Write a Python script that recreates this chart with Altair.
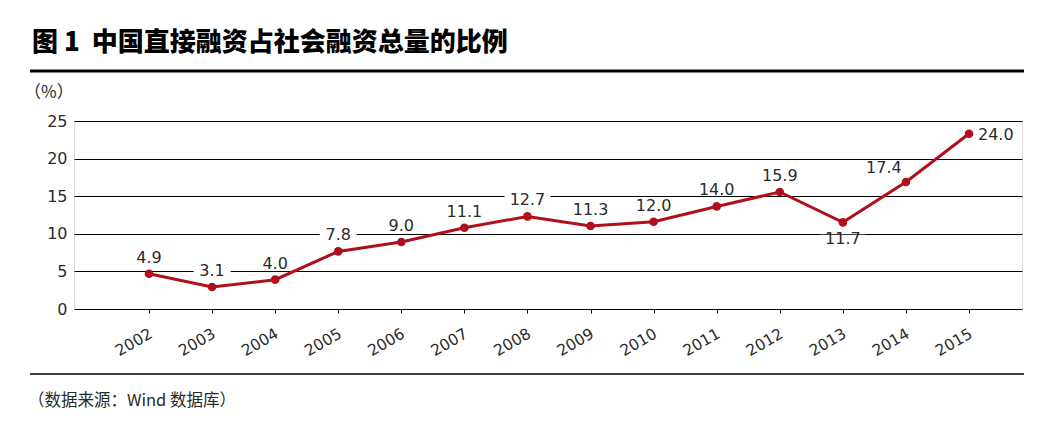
import altair as alt
import pandas as pd

# ---- data ----
years = [2002, 2003, 2004, 2005, 2006, 2007, 2008, 2009, 2010, 2011, 2012, 2013, 2014, 2015]
values = [4.69, 2.92, 3.90, 7.66, 8.91, 10.81, 12.31, 11.04, 11.60, 13.64, 15.56, 11.52, 16.89, 23.30]
labels = ["4.9", "3.1", "4.0", "7.8", "9.0", "11.1", "12.7", "11.3", "12.0", "14.0", "15.9", "11.7", "17.4", "24.0"]
y_ticks = [0, 5, 10, 15, 20, 25]
title_text = "图\u00a01\u00a0\u00a0中国直接融资占社会融资总量的比例"
unit_text = "（%）"
source_text = "（数据来源：Wind 数据库）"

df = pd.DataFrame({"year": years, "value": values, "label": labels})

RED = "#B0101B"
NUM_FONT = "DejaVu Sans"
CJK = "Noto Sans CJK SC"
TXT = "#2a2a2a"

x_enc = alt.X(
    "year:Q",
    scale=alt.Scale(domain=[2000.811, 2015.84], nice=False, zero=False),
    axis=alt.Axis(
        values=years, format="d", title=None, grid=False, domain=False,
        ticks=True, tickColor="black", tickSize=4, tickWidth=1,
        labelAngle=-30, labelAlign="right", labelBaseline="top",
        labelPadding=13, labelOffset=-2,
        labelFont=NUM_FONT, labelFontSize=15.5, labelColor=TXT,
    ),
)
y_enc = alt.Y(
    "value:Q",
    scale=alt.Scale(domain=[0, 25], nice=False, zero=True),
    axis=alt.Axis(
        values=y_ticks, title=None, grid=True, gridColor="black", gridWidth=1.2,
        gridOpacity=1, ticks=False, domain=False, labelPadding=7,
        labelFont=NUM_FONT, labelFontSize=16, labelColor=TXT,
    ),
)

base = alt.Chart(df)


def box_layer(expr, dx, dy):
    return (
        base.transform_filter(expr)
        .transform_calculate(bw="length(datum.label) * 9 + 10")
        .transform_calculate(
            bpath="'M-1,-' + (9 / datum.bw) + 'H1V' + (9 / datum.bw) + 'H-1Z'",
            bsize="datum.bw * datum.bw",
        )
        .mark_point(filled=True, color="white", opacity=1, strokeWidth=0,
                    xOffset=dx, yOffset=dy)
        .encode(x=x_enc, y=y_enc,
                shape=alt.Shape("bpath:N", scale=None),
                size=alt.Size("bsize:Q", scale=None))
    )


def text_layer(expr, dx, dy, align="center"):
    return (
        base.transform_filter(expr)
        .mark_text(font=NUM_FONT, fontSize=16, color=TXT, align=align,
                   baseline="middle", dx=dx, dy=dy)
        .encode(x=x_enc, y=y_enc, text="label:N")
    )


f_above = "indexof([2013, 2014, 2015], datum.year) < 0"
f_below = "datum.year == 2013"
f_left = "datum.year == 2014"
f_right = "datum.year == 2015"

boxes = [box_layer(f_above, 0, -16), box_layer(f_below, 0, 17), box_layer(f_left, -22, -14)]

line = base.mark_line(color=RED, strokeWidth=3).encode(x=x_enc, y=y_enc)
pts = base.mark_circle(color=RED, size=75, opacity=1).encode(x=x_enc, y=y_enc)

texts = [
    text_layer(f_above, 0, -16),
    text_layer(f_below, 0, 17),
    text_layer(f_left, -22, -14),
    text_layer(f_right, 9, 1, align="left"),
]

one = pd.DataFrame({"t": [title_text]})
title = alt.Chart(one).mark_text(
    align="left", baseline="middle", font=CJK, fontSize=26, fontWeight=900, color="black"
).encode(text="t:N", x=alt.value(-42), y=alt.value(-78))

unit = alt.Chart(pd.DataFrame({"t": [unit_text]})).mark_text(
    align="left", baseline="middle", font=CJK, fontSize=17, color=TXT
).encode(text="t:N", x=alt.value(-50), y=alt.value(-28))

source = alt.Chart(pd.DataFrame({"t": [source_text]})).mark_text(
    align="left", baseline="middle", font=CJK, fontSize=16.5, color=TXT
).encode(text="t:N", x=alt.value(-46), y=alt.value(280))

top_rule = alt.Chart(one).mark_rule(color="black", strokeWidth=3).encode(
    x=alt.value(-44), x2=alt.value(950), y=alt.value(-50))
bottom_rule = alt.Chart(one).mark_rule(color="black", strokeWidth=1.5).encode(
    x=alt.value(-44), x2=alt.value(950), y=alt.value(253))

chart = alt.layer(
    *boxes, line, pts, *texts, title, unit, source, top_rule, bottom_rule
).properties(
    width=948, height=188,
    autosize=alt.AutoSizeParams(type="none"),
    padding={"left": 66, "top": 113, "right": 20, "bottom": 112},
).configure_view(stroke=None).configure(background="white")

chart.save("out.html", embed_options={"renderer": "svg", "actions": False})
